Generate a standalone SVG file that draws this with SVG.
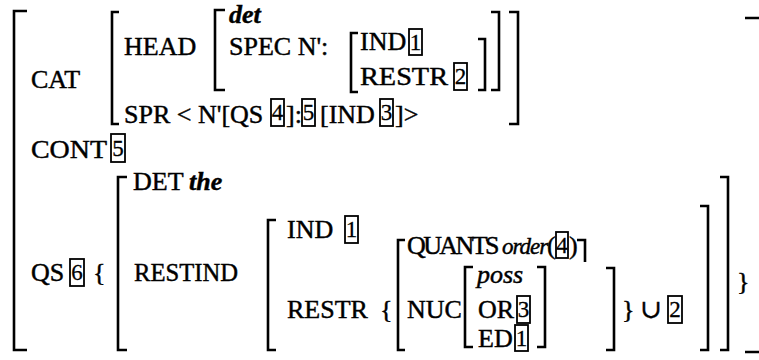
<svg xmlns="http://www.w3.org/2000/svg" width="759" height="360" viewBox="0 0 759 360">
<style>
text{font-family:"Liberation Serif","DejaVu Serif",serif;font-size:26px;fill:#000;stroke:#000;stroke-width:0.45}
.i{font-style:italic}
.d{font-size:23px;text-anchor:middle;stroke-width:0.3}
.br{fill:none;stroke:#000;stroke-width:2.6;stroke-linecap:butt;stroke-linejoin:miter}
.bx{fill:none;stroke:#000;stroke-width:1.8}
</style>
<rect width="759" height="360" fill="#fff"/>
<g id="brackets">
<path class="br" d="M27,11 H14 V350 H27"/>
<path class="br" d="M745,18 H761 V352 H745"/>
<path class="br" d="M119,12 H112 V124 H119"/>
<path class="br" d="M509,12 H518 V124 H509"/>
<path class="br" d="M225,10 H215 V90 H225"/>
<path class="br" d="M491,12 H499 V90 H491"/>
<path class="br" d="M358,33 H351 V92 H358"/>
<path class="br" d="M478,39 H485 V90 H478"/>
<path class="br" d="M127,177 H118 V350 H127"/>
<path class="br" d="M720,177 H728 V350 H720"/>
<path class="br" d="M276,220 H268 V350 H276"/>
<path class="br" d="M700,206 H708 V350 H700"/>
<path class="br" d="M405,240 H398 V350 H405"/>
<path class="br" d="M577,240 H585 V262"/>
<path class="br" d="M606,268 H614 V350 H606"/>
<path class="br" d="M473,267 H465 V347 H473"/>
<path class="br" d="M537,267 H545 V347 H537"/>
</g>
<g id="cat">
<text x="31" y="88">CAT</text>
<text x="124" y="55">HEAD</text>
<text class="i" x="229" y="23" font-size="24" font-weight="bold">det</text>
<text x="229" y="55">SPEC N':</text>
<text x="360" y="50">IND</text>
<rect class="bx" x="409" y="29" width="13" height="26"/><text class="d" x="415.5" y="50">1</text>
<text x="360" y="85" textLength="88" lengthAdjust="spacingAndGlyphs">RESTR</text>
<rect class="bx" x="454" y="63" width="13" height="27"/><text class="d" x="460.5" y="84">2</text>
<text x="124" y="123">SPR &lt; N'[QS</text>
<rect class="bx" x="271" y="99" width="13" height="27"/><text class="d" x="277.5" y="120">4</text>
<text x="286" y="123">]:</text>
<rect class="bx" x="302" y="99" width="13" height="27"/><text class="d" x="308.5" y="120">5</text>
<text x="320" y="123">[IND</text>
<rect class="bx" x="380" y="99" width="13" height="27"/><text class="d" x="386.5" y="120">3</text>
<text x="395" y="123">]&gt;</text>
</g>
<g id="cont">
<text x="31" y="158" textLength="76" lengthAdjust="spacingAndGlyphs">CONT</text>
<rect class="bx" x="111" y="134" width="14" height="28"/><text class="d" x="118" y="156">5</text>
</g>
<g id="qs">
<text x="31" y="281">QS</text>
<rect class="bx" x="70" y="259" width="14" height="27"/><text class="d" x="77" y="280">6</text>
<text x="93" y="281">{</text>
<text x="133" y="190">DET</text>
<text class="i" x="189" y="190" font-weight="bold">the</text>
<text x="134" y="281" textLength="104" lengthAdjust="spacingAndGlyphs">RESTIND</text>
<text x="287" y="238">IND</text>
<rect class="bx" x="345" y="216" width="13" height="27"/><text class="d" x="351.5" y="237">1</text>
<text x="287" y="318">RESTR</text>
<text x="380" y="318">{</text>
<text y="254"><tspan x="407" letter-spacing="-2.6">QUANTS</tspan><tspan class="i" x="502" font-size="23" letter-spacing="-1">order</tspan><tspan x="547">(</tspan></text>
<rect class="bx" x="556" y="232" width="12" height="26"/><text class="d" x="562" y="253">4</text>
<text x="569" y="254">)</text>
<text x="407" y="318">NUC</text>
<text class="i" x="477" y="283">poss</text>
<text x="478" y="318">OR</text>
<rect class="bx" x="517" y="296" width="13" height="27"/><text class="d" x="523.5" y="317">3</text>
<text x="478" y="347">ED</text>
<rect class="bx" x="515" y="325" width="13" height="26"/><text class="d" x="521.5" y="346">1</text>
<text x="622" y="318">}</text>
<text x="640" y="318">∪</text>
<rect class="bx" x="668" y="296" width="14" height="27"/><text class="d" x="675" y="317">2</text>
<text x="737" y="290">}</text>
</g>
</svg>
